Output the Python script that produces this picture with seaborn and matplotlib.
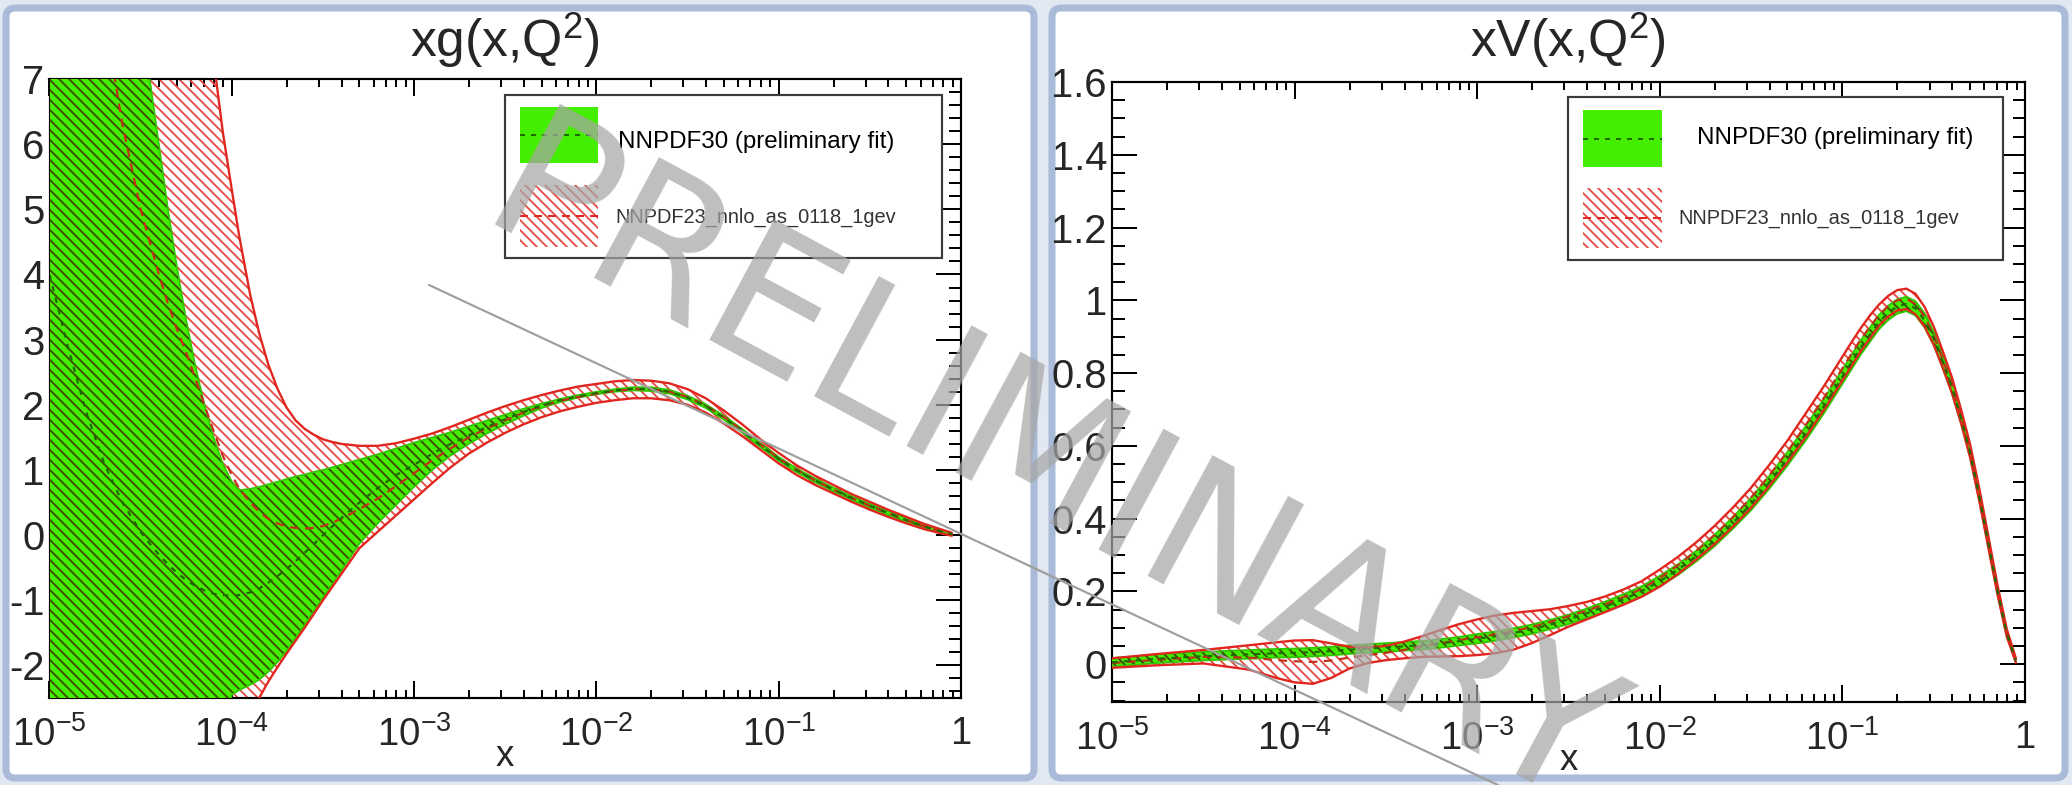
import numpy as np
import matplotlib
matplotlib.use("Agg")
import matplotlib.pyplot as plt
import seaborn as sns
from matplotlib.patches import FancyBboxPatch, Rectangle
from matplotlib.ticker import FixedLocator, FixedFormatter, LogLocator, MultipleLocator, NullFormatter

# ---------------- data ----------------
# gluon xg(x,Q^2): log10(x) nodes, band edges and central values
G_LOGX = [-5.0, -4.9, -4.8, -4.7, -4.6, -4.5, -4.45, -4.4, -4.35, -4.3, -4.25, -4.2, -4.15,
          -4.1, -4.05, -4.0, -3.96, -3.9, -3.85, -3.8, -3.75, -3.7, -3.65, -3.6, -3.55,
          -3.5, -3.45, -3.4, -3.3, -3.2, -3.1,
          -3.0, -2.9, -2.8, -2.7, -2.6, -2.5, -2.4, -2.3, -2.2, -2.1, -2.0, -1.9, -1.8,
          -1.7, -1.6, -1.5, -1.4, -1.3, -1.2, -1.1, -1.0, -0.9, -0.8, -0.7, -0.6, -0.5,
          -0.4, -0.3, -0.2, -0.1, -0.05]
G30_HI = [16, 15, 14, 12, 10, 8.0, 7.0, 6.0, 5.0, 4.1, 3.3, 2.6, 2.0, 1.5, 1.1, 0.82, 0.69,
          0.71, 0.74, 0.78, 0.82, 0.86, 0.9, 0.93, 0.97, 1.0, 1.04, 1.08, 1.16, 1.24, 1.33,
          1.42, 1.5, 1.58, 1.67, 1.76, 1.85, 1.94, 2.02, 2.09, 2.15, 2.2, 2.24, 2.27, 2.27,
          2.23, 2.14, 2.01, 1.83, 1.63, 1.41, 1.2, 1.02, 0.87, 0.73, 0.6, 0.48, 0.37, 0.26,
          0.16, 0.07, 0.03]
G30_MID = [4.0, 2.9, 1.9, 1.1, 0.5, 0.05, -0.13, -0.3, -0.45, -0.58, -0.69, -0.78, -0.85,
           -0.9, -0.92, -0.93, -0.92, -0.88, -0.82, -0.73, -0.63, -0.52, -0.4, -0.27, -0.14,
           0.0, 0.13, 0.26, 0.5, 0.72, 0.92,
           1.08, 1.25, 1.4, 1.53, 1.66, 1.78, 1.89, 1.99, 2.07, 2.13, 2.18, 2.22, 2.245,
           2.24, 2.2, 2.11, 1.98, 1.8, 1.6, 1.38, 1.17, 0.99, 0.84, 0.7, 0.57, 0.45, 0.34,
           0.23, 0.13, 0.05, 0.015]
G30_LO = [-9, -9, -9, -9, -9, -9, -9, -9, -9, -9, -9, -8, -6, -4.2, -3.0, -2.45, -2.38,
          -2.3, -2.22, -2.1, -1.95, -1.78, -1.58, -1.38, -1.17, -0.96, -0.76, -0.55, -0.13,
          0.18, 0.46,
          0.74, 1.0, 1.22, 1.4, 1.56, 1.7, 1.83, 1.95, 2.04, 2.11, 2.16, 2.2, 2.22, 2.21,
          2.17, 2.08, 1.95, 1.77, 1.57, 1.35, 1.14, 0.96, 0.81, 0.67, 0.54, 0.42, 0.31, 0.2,
          0.1, 0.03, 0.0]
G23_HI = [16, 16, 16, 16, 16, 16, 16, 16, 16, 16, 14, 12, 9.5, 7.3, 6.2, 5.3, 4.6, 3.7,
          3.1, 2.62, 2.25, 1.96, 1.76, 1.63, 1.54, 1.47, 1.43, 1.4, 1.37, 1.37, 1.41,
          1.48, 1.56, 1.66, 1.77, 1.88, 1.98, 2.07, 2.15, 2.22, 2.28, 2.32, 2.36, 2.38,
          2.37, 2.33, 2.24, 2.1, 1.91, 1.7, 1.47, 1.26, 1.07, 0.91, 0.77, 0.63, 0.51, 0.39,
          0.28, 0.17, 0.08, 0.035]
G23_MID = [12, 10.5, 9.3, 8.0, 6.3, 5.0, 4.5, 4.0, 3.55, 3.15, 2.8, 2.4, 2.0, 1.6, 1.22,
           0.92, 0.72, 0.5, 0.36, 0.25, 0.18, 0.13, 0.11, 0.1, 0.11, 0.14, 0.19, 0.25, 0.4,
           0.56, 0.75,
           0.95, 1.15, 1.33, 1.5, 1.64, 1.76, 1.88, 1.98, 2.06, 2.12, 2.17, 2.21, 2.24,
           2.24, 2.2, 2.12, 1.99, 1.81, 1.61, 1.39, 1.18, 1.0, 0.84, 0.7, 0.57, 0.45, 0.34,
           0.23, 0.13, 0.05, 0.012]
G23_LO = [-9, -9, -9, -9, -9, -9, -9, -9, -9, -9, -9, -9, -9, -8, -6.5, -5.0, -3.8, -2.85,
          -2.5, -2.25, -2.03, -1.82, -1.62, -1.42, -1.21, -1.0, -0.8, -0.6, -0.2, 0.05, 0.3,
          0.55, 0.8, 1.04, 1.25, 1.42, 1.57, 1.7, 1.81, 1.9, 1.97, 2.03, 2.07, 2.1, 2.1,
          2.07, 2.0, 1.88, 1.71, 1.52, 1.31, 1.1, 0.92, 0.77, 0.64, 0.51, 0.39, 0.28, 0.18,
          0.09, 0.02, -0.01]

# valence xV(x,Q^2)
V_LOGX = [-5.0, -4.75, -4.5, -4.25, -4.1, -4.0, -3.9, -3.8, -3.7, -3.6,
          -3.5, -3.4, -3.3, -3.2, -3.1, -3.0, -2.9, -2.8, -2.7, -2.6, -2.5, -2.4, -2.3,
          -2.2, -2.1, -2.0, -1.9, -1.8, -1.7, -1.6, -1.5, -1.4, -1.3, -1.2, -1.1, -1.0,
          -0.95, -0.9, -0.85, -0.8, -0.75, -0.7, -0.65, -0.6, -0.55, -0.5, -0.45, -0.4,
          -0.35, -0.3, -0.25, -0.2, -0.15, -0.1, -0.05]
V30_HI = [0.017, 0.027, 0.034, 0.039, 0.042, 0.043, 0.045, 0.048, 0.052, 0.055,
          0.058, 0.061, 0.064, 0.069, 0.075, 0.083, 0.09, 0.099, 0.109, 0.122, 0.136,
          0.153, 0.172, 0.192, 0.214, 0.243, 0.275, 0.312, 0.356, 0.404, 0.457, 0.518,
          0.584, 0.655, 0.73, 0.81,
          0.85, 0.89, 0.925, 0.96, 0.985, 1.003, 1.01, 0.998, 0.965, 0.914, 0.848, 0.777,
          0.69, 0.594, 0.473, 0.341, 0.209, 0.092, 0.014]
V30_MID = [0.005, 0.015, 0.022, 0.027, 0.03, 0.031, 0.033, 0.036, 0.04, 0.043,
           0.046, 0.049, 0.052, 0.057, 0.063, 0.07, 0.077, 0.086, 0.096, 0.109, 0.123,
           0.14, 0.158, 0.178, 0.2, 0.228, 0.26, 0.297, 0.34, 0.388, 0.44, 0.5, 0.565,
           0.635, 0.71, 0.79,
           0.83, 0.87, 0.905, 0.94, 0.965, 0.983, 0.99, 0.978, 0.945, 0.895, 0.83, 0.76,
           0.675, 0.58, 0.46, 0.33, 0.2, 0.085, 0.01]
V30_LO = [-0.007, 0.003, 0.01, 0.015, 0.018, 0.019, 0.021, 0.024, 0.028, 0.031,
          0.034, 0.037, 0.04, 0.045, 0.051, 0.057, 0.064, 0.073, 0.083, 0.096, 0.11,
          0.127, 0.144, 0.164, 0.186, 0.213, 0.245, 0.282, 0.324, 0.372, 0.423, 0.482,
          0.546, 0.615, 0.69, 0.77,
          0.81, 0.85, 0.885, 0.92, 0.945, 0.963, 0.97, 0.958, 0.925, 0.876, 0.812, 0.743,
          0.66, 0.566, 0.447, 0.319, 0.191, 0.078, 0.006]
V23_HI = [0.016, 0.028, 0.039, 0.052, 0.06, 0.065, 0.066, 0.057, 0.048, 0.046,
          0.05, 0.062, 0.077, 0.094, 0.11, 0.123, 0.134, 0.141, 0.146, 0.151, 0.16,
          0.171, 0.186, 0.205, 0.228, 0.26, 0.295, 0.335, 0.38, 0.43, 0.485, 0.548,
          0.615, 0.69, 0.765, 0.845,
          0.885, 0.923, 0.958, 0.988, 1.012, 1.028, 1.032, 1.018, 0.982, 0.928, 0.86,
          0.788, 0.7, 0.603, 0.482, 0.35, 0.216, 0.097, 0.016]
V23_MID = [0.003, 0.012, 0.02, 0.018, 0.011, 0.008, 0.006, 0.01, 0.018, 0.025,
           0.031, 0.039, 0.049, 0.058, 0.066, 0.074, 0.082, 0.091, 0.102, 0.116, 0.132,
           0.147, 0.165, 0.184, 0.207, 0.237, 0.272, 0.312, 0.355, 0.404, 0.458, 0.519,
           0.585, 0.658, 0.733, 0.813,
           0.853, 0.892, 0.927, 0.959, 0.984, 1.0, 1.004, 0.99, 0.955, 0.903, 0.837,
           0.767, 0.681, 0.585, 0.465, 0.334, 0.203, 0.087, 0.01]
V23_LO = [-0.01, -0.003, 0.002, -0.015, -0.038, -0.05, -0.054, -0.038, -0.012, 0.003,
          0.011, 0.016, 0.02, 0.021, 0.022, 0.025, 0.03, 0.04, 0.058, 0.08, 0.103, 0.123,
          0.143, 0.163, 0.185, 0.213, 0.248, 0.288, 0.33, 0.378, 0.43, 0.49, 0.555, 0.625,
          0.7, 0.78,
          0.82, 0.86, 0.895, 0.93, 0.955, 0.972, 0.976, 0.962, 0.928, 0.878, 0.814, 0.745,
          0.662, 0.567, 0.448, 0.318, 0.19, 0.076, 0.004]

SERIES_LABELS = ["NNPDF30 (preliminary fit)", "NNPDF23_nnlo_as_0118_1gev"]
PANEL_TITLES = [r"xg(x,Q$^{\mathregular{2}}$)", r"xV(x,Q$^{\mathregular{2}}$)"]
X_TICKS = [1e-5, 1e-4, 1e-3, 1e-2, 1e-1, 1.0]
X_TICK_LABELS = [r"$\mathregular{10^{-5}}$", r"$\mathregular{10^{-4}}$", r"$\mathregular{10^{-3}}$",
                 r"$\mathregular{10^{-2}}$", r"$\mathregular{10^{-1}}$", "1"]
G_Y_TICKS = [-2, -1, 0, 1, 2, 3, 4, 5, 6, 7]
G_Y_LABELS = ["-2", "-1", "0", "1", "2", "3", "4", "5", "6", "7"]
V_Y_TICKS = [0, 0.2, 0.4, 0.6, 0.8, 1.0, 1.2, 1.4, 1.6]
V_Y_LABELS = ["0", "0.2", "0.4", "0.6", "0.8", "1", "1.2", "1.4", "1.6"]

# ---------------- style ----------------
sns.set_theme(style="ticks")
plt.rcParams["font.family"] = ["Liberation Sans", "DejaVu Sans"]
plt.rcParams["mathtext.fontset"] = "custom"
plt.rcParams["mathtext.rm"] = "Liberation Sans"
plt.rcParams["mathtext.it"] = "Liberation Sans:italic"
plt.rcParams["hatch.linewidth"] = 1.1

DPI = 120
W, H = 2072, 785
BG = "#e1e8f2"
FRAME = "#a9bbd8"
GREEN = "#44ee00"
GREEN_EDGE = "#2fc400"
GREEN_HATCH = "#3b4a00"
GREEN_MID = "#1d6a00"
RED = "#e0261f"
RED_HATCH = "#e64a44"

fig = plt.figure(figsize=(W / DPI, H / DPI), dpi=DPI, facecolor=BG)

# slide background with two rounded white frames (pixel coordinates)
bg = fig.add_axes([0, 0, 1, 1], zorder=-10)
bg.set_xlim(0, W)
bg.set_ylim(H, 0)
bg.axis("off")
for (x0, x1) in [(6, 1034), (1052, 2065)]:
    bg.add_patch(FancyBboxPatch((x0, 8), x1 - x0, 770,
                                boxstyle="round,pad=0,rounding_size=9",
                                fc="white", ec=FRAME, lw=4.2))


def px_axes(l, t, r, b):
    return fig.add_axes([l / W, 1 - b / H, (r - l) / W, (b - t) / H])


def style_axes(ax, ylim, yticks, ylabels, yminor):
    ax.set_xscale("log")
    ax.set_xlim(1e-5, 1.0)
    ax.set_ylim(*ylim)
    ax.set_facecolor("white")
    ax.xaxis.set_major_locator(FixedLocator(X_TICKS))
    ax.xaxis.set_major_formatter(FixedFormatter(X_TICK_LABELS))
    ax.xaxis.set_minor_locator(LogLocator(base=10, subs=np.arange(2, 10), numticks=20))
    ax.xaxis.set_minor_formatter(NullFormatter())
    ax.yaxis.set_major_locator(FixedLocator(yticks))
    ax.yaxis.set_major_formatter(FixedFormatter(ylabels))
    ax.yaxis.set_minor_locator(MultipleLocator(yminor))
    for s in ax.spines.values():
        s.set_color("black")
        s.set_linewidth(1.3)
    ax.tick_params(axis="both", which="both", direction="in", top=True, right=True,
                   color="black", width=1.2)
    ax.tick_params(axis="x", which="major", length=10, pad=11, labelsize=23)
    ax.tick_params(axis="x", which="minor", length=5)
    ax.tick_params(axis="y", which="major", length=15, pad=3, labelsize=24)
    ax.tick_params(axis="y", which="minor", length=7.5)
    ax.set_xlabel("x", fontsize=22, labelpad=-9)
    ax.set_ylabel("")


def draw_bands(ax, logx, lo30, mid30, hi30, lo23, mid23, hi23):
    x = 10 ** np.asarray(logx)
    # NNPDF23: red hatched band
    ax.fill_between(x, lo23, hi23, facecolor="none", edgecolor=RED_HATCH,
                    hatch="\\\\\\\\", linewidth=0, zorder=2)
    # NNPDF30: solid green band, the overlying hatch appears darker on it
    ax.fill_between(x, lo30, hi30, facecolor=GREEN, edgecolor=GREEN_HATCH,
                    hatch="\\\\\\\\", linewidth=0, zorder=3)
    for y in (lo30, hi30):
        sns.lineplot(x=x, y=y, ax=ax, color=GREEN_EDGE, lw=1.0, sort=False,
                     estimator=None, legend=False, zorder=4)
    for y in (lo23, hi23):
        sns.lineplot(x=x, y=y, ax=ax, color=RED, lw=1.4, sort=False,
                     estimator=None, legend=False, zorder=5)
    sns.lineplot(x=x, y=mid23, ax=ax, color="#c0301a", lw=1.3, linestyle=(0, (4, 3)),
                 sort=False, estimator=None, legend=False, zorder=6)
    sns.lineplot(x=x, y=mid30, ax=ax, color=GREEN_MID, lw=1.3, linestyle=(0, (2.5, 3)),
                 sort=False, estimator=None, legend=False, zorder=6)


axg = px_axes(49.5, 79, 961, 698)
draw_bands(axg, G_LOGX, G30_LO, G30_MID, G30_HI, G23_LO, G23_MID, G23_HI)
style_axes(axg, (-2.5, 7.0), G_Y_TICKS, G_Y_LABELS, 0.2)

axv = px_axes(1112, 82, 2025, 702)
draw_bands(axv, V_LOGX, V30_LO, V30_MID, V30_HI, V23_LO, V23_MID, V23_HI)
style_axes(axv, (-0.104, 1.6), V_Y_TICKS, V_Y_LABELS, 0.05)

# overlay in pixel coordinates: titles, legends, watermark
top = fig.add_axes([0, 0, 1, 1], zorder=10)
top.set_xlim(0, W)
top.set_ylim(H, 0)
top.axis("off")
top.patch.set_alpha(0)

top.text(505, 40, PANEL_TITLES[0], fontsize=31, ha="center", va="center")
top.text(1568, 40, PANEL_TITLES[1], fontsize=31, ha="center", va="center")


def legend_box(x0, y0, x1, y1, sx0, sx1, gy, ry, t1, t2):
    top.add_patch(Rectangle((x0, y0), x1 - x0, y1 - y0, fc="white", ec="#3a3a3a", lw=1.3,
                            zorder=1))
    top.add_patch(Rectangle((sx0, gy[0]), sx1 - sx0, gy[1] - gy[0], fc=GREEN, lw=0,
                            zorder=2))
    top.plot([sx0, sx1], [(gy[0] + gy[1]) / 2] * 2, color=GREEN_MID, lw=1.2,
             linestyle=(0, (2.5, 3)), zorder=3)
    top.add_patch(Rectangle((sx0, ry[0]), sx1 - sx0, ry[1] - ry[0], fc="white",
                            ec=RED_HATCH, hatch="\\\\\\\\", lw=0, zorder=2))
    top.plot([sx0, sx1], [(ry[0] + ry[1]) / 2] * 2, color=RED, lw=1.2,
             linestyle=(0, (4, 3)), zorder=3)
    top.text(t1[0], t1[1], SERIES_LABELS[0], fontsize=14.5, ha="left", va="center",
             color="black", zorder=3)
    top.text(t2[0], t2[1], SERIES_LABELS[1], fontsize=12, ha="left", va="center",
             color="#333333", zorder=3)


legend_box(505, 95, 942, 258, 520, 598, (107, 163), (185, 247), (618, 142), (615, 217))
legend_box(1568, 97, 2003, 260, 1583, 1662, (110, 167), (188, 248), (1697, 138), (1678, 218))

# watermark
top.plot([429, 1498], [285, 785], color="#9e9e9e", lw=1.3, zorder=20)
top.text(1048, 474, "PRELIMINARY", fontsize=113, rotation=-28.3, rotation_mode="anchor",
         ha="center", va="center", color="#a6a6a6", alpha=0.72, family="DejaVu Sans",
         zorder=21)

fig.savefig("out.png", dpi=DPI, facecolor=BG)
